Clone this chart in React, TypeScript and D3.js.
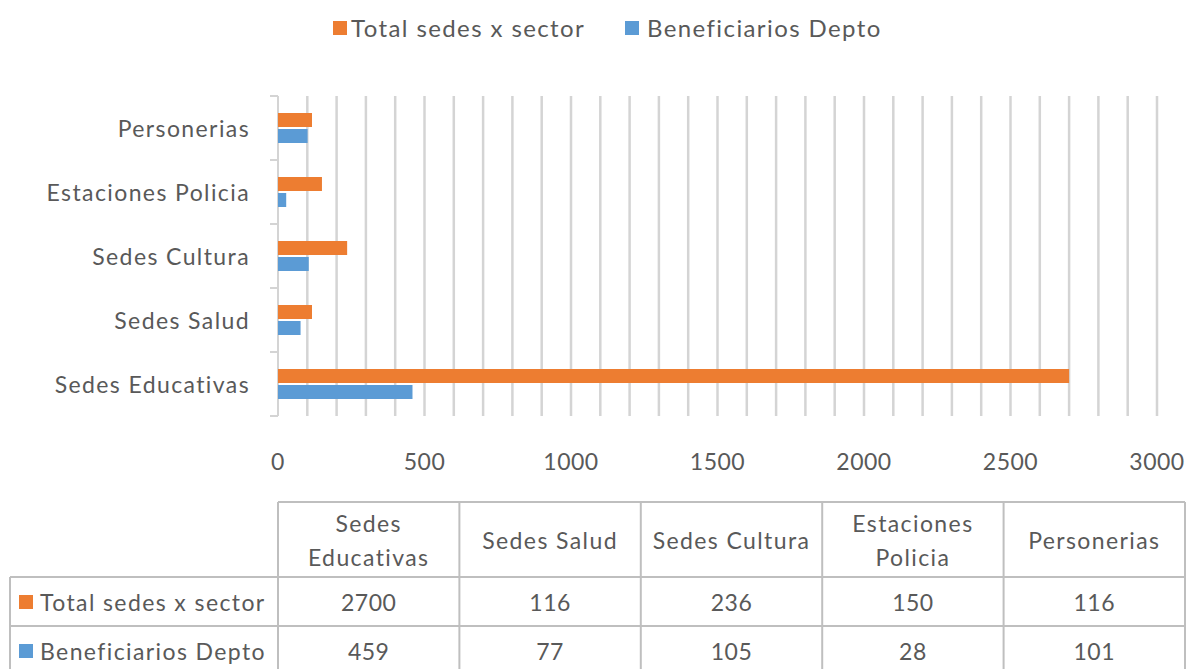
import * as d3 from "d3";

const categories = [
  "Sedes Educativas",
  "Sedes Salud",
  "Sedes Cultura",
  "Estaciones Policia",
  "Personerias",
];
const headerLines = [
  ["Sedes", "Educativas"],
  ["Sedes Salud"],
  ["Sedes Cultura"],
  ["Estaciones", "Policia"],
  ["Personerias"],
];
const seriesNames = ["Total sedes x sector", "Beneficiarios Depto"];
const totalSedes = [2700, 116, 236, 150, 116];
const beneficiarios = [459, 77, 105, 28, 101];
const xTicks = [0, 500, 1000, 1500, 2000, 2500, 3000];

const colors = ["#ED7D31", "#5B9BD5"];
const font = "Lato, 'Open Sans', sans-serif";
const textColor = "#595959";

export default function App() {
  const width = 1188;
  const height = 669;
  const x = d3.scaleLinear().domain([0, 3000]).range([278, 1157]);
  const y = d3
    .scaleBand()
    .domain([...categories].reverse())
    .range([96, 416]);
  const series = [totalSedes, beneficiarios];
  const gridValues = d3.range(100, 3001, 100);

  const colX = d3
    .scaleBand()
    .domain(categories)
    .range([278, 1185]);
  const tableTop = 502;
  const headerBottom = 577;
  const row1Bottom = 626;
  const row2Bottom = 675;
  const rowMids = [602, 651];
  const border = "#bfbfbf";
  const ls = 1.4;

  return (
    <svg
      width={width}
      height={height}
      style={{ position: "absolute", left: 0, top: 0, background: "#fff" }}
      fontFamily={font}
    >
      {/* legend */}
      <g>
        <rect x={333} y={21} width={14} height={14} fill={colors[0]} />
        <text x={351} y={37} fontSize={24} letterSpacing={ls} fill={textColor}>
          {seriesNames[0]}
        </text>
        <rect x={625} y={21} width={14} height={14} fill={colors[1]} />
        <text x={647} y={37} fontSize={24} letterSpacing={ls} fill={textColor}>
          {seriesNames[1]}
        </text>
      </g>

      {/* gridlines */}
      <g>
        {gridValues.map((v) => (
          <line
            key={v}
            x1={x(v)}
            x2={x(v)}
            y1={96}
            y2={416}
            stroke="#d4d4d4"
            strokeWidth={2.5}
          />
        ))}
      </g>

      {/* category axis */}
      <g>
        <line x1={278} x2={278} y1={96} y2={416} stroke="#d4d4d4" strokeWidth={2} />
        {[...categories.map((c) => y(c)!), 416].map((t, i) => (
          <line key={i} x1={270} x2={278} y1={t} y2={t} stroke="#d4d4d4" strokeWidth={2} />
        ))}
        {categories.map((c) => (
          <text
            key={c}
            x={250}
            y={y(c)! + y.bandwidth() / 2}
            textAnchor="end"
            dominantBaseline="central"
            fontSize={23}
            letterSpacing={ls}
            fill={textColor}
          >
            {c}
          </text>
        ))}
      </g>

      {/* bars */}
      <g>
        {series.map((vals, si) =>
          categories.map((c, i) => {
            const cy = y(c)! + y.bandwidth() / 2;
            return (
              <rect
                key={`${si}-${c}`}
                x={x(0)}
                y={si === 0 ? cy - 15 : cy + 1}
                width={x(vals[i]) - x(0)}
                height={14}
                fill={colors[si]}
              />
            );
          })
        )}
      </g>

      {/* x axis labels */}
      <g>
        {xTicks.map((t) => (
          <text
            key={t}
            x={x(t)}
            y={470}
            textAnchor="middle"
            fontSize={23}
            letterSpacing={0.5}
            fill={textColor}
          >
            {t}
          </text>
        ))}
      </g>

      {/* data table */}
      <g>
        <line x1={278} x2={1185} y1={tableTop} y2={tableTop} stroke={border} strokeWidth={2} />
        <line x1={10} x2={1185} y1={headerBottom} y2={headerBottom} stroke={border} strokeWidth={2} />
        <line x1={10} x2={1185} y1={row1Bottom} y2={row1Bottom} stroke={border} strokeWidth={2} />
        <line x1={10} x2={10} y1={headerBottom} y2={row2Bottom} stroke={border} strokeWidth={2} />
        {[...categories.map((c) => colX(c)!), 1185].map((cx, i) => (
          <line key={i} x1={cx} x2={cx} y1={tableTop} y2={row2Bottom} stroke={border} strokeWidth={2} />
        ))}
        {categories.map((c, i) => {
          const cx = colX(c)! + colX.bandwidth() / 2;
          const lines = headerLines[i];
          const mid = (tableTop + headerBottom) / 2;
          return (
            <text key={c} textAnchor="middle" fontSize={23} letterSpacing={ls} fill={textColor}>
              {lines.map((l, li) => (
                <tspan
                  key={li}
                  x={cx}
                  y={mid + (li - (lines.length - 1) / 2) * 34}
                  dominantBaseline="central"
                >
                  {l}
                </tspan>
              ))}
            </text>
          );
        })}
        {series.map((vals, si) => {
          const mid = rowMids[si];
          return (
            <g key={si}>
              <rect x={19} y={mid - 7} width={14} height={14} fill={colors[si]} />
              <text
                x={40}
                y={mid}
                dominantBaseline="central"
                fontSize={23}
                letterSpacing={ls}
                fill={textColor}
              >
                {seriesNames[si]}
              </text>
              {categories.map((c, i) => (
                <text
                  key={c}
                  x={colX(c)! + colX.bandwidth() / 2}
                  y={mid}
                  textAnchor="middle"
                  dominantBaseline="central"
                  fontSize={23}
                  letterSpacing={0.5}
                  fill={textColor}
                >
                  {vals[i]}
                </text>
              ))}
            </g>
          );
        })}
      </g>
    </svg>
  );
}
